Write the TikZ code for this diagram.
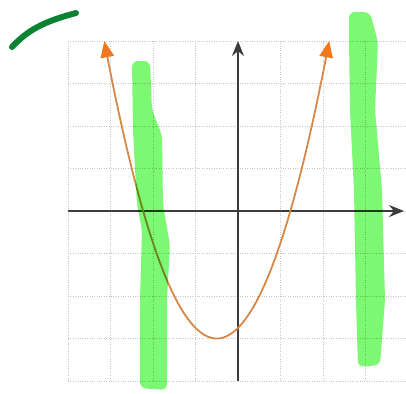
\documentclass[tikz,border=0pt]{standalone}
\usetikzlibrary{arrows.meta}

\definecolor{pbaxis}{RGB}{60,60,60}
\definecolor{pbline}{RGB}{215,135,70}
\definecolor{pbtip}{RGB}{240,120,30}
\definecolor{pbhigh}{RGB}{125,248,115}
\definecolor{pbpen}{RGB}{10,130,50}

\tikzset{
    pb grid/.style={densely dotted, gray!45, line width=0.6pt},
    pb axis/.style={pbaxis, line width=1.3pt,
                    -{Stealth[length=10pt, width=8pt]}},
    pb curve/.style={pbline, line width=1.2pt,
                     {Triangle[length=11pt, width=9pt, color=pbtip]}-{Triangle[length=11pt, width=9pt, color=pbtip]}},
    pb high/.style={fill=pbhigh, draw=none, rounded corners=4pt,
                    blend mode=multiply},
    pb pen/.style={pbpen, line width=4pt, line cap=round},
}

\begin{document}
\begin{tikzpicture}
    \clip (-5.6,-4.282) rectangle (3.953,4.965);
    % Grid
    \draw[pb grid] (-4,-4) grid (4,4);
    % Axes
    \coordinate (xlo) at (-4,0);
    \coordinate (xhi) at (3.906,0);
    \coordinate (ylo) at (0,-4);
    \coordinate (yhi) at (0,4);
    \draw[pb axis] (xlo) -- (xhi);
    \draw[pb axis] (ylo) -- (yhi);
    % Parabola
    \draw[pb curve] plot[domain=-3.146:2.146, samples=80, smooth]
          (\x, {(\x+0.5)^2-3});
    % Highlighter strokes
    \fill[pb high] (-2.494,3.529) -- (-2.471,1.906) -- (-2.376,0.141)
          -- (-2.259,-0.447) -- (-2.306,-2.094) -- (-2.306,-4.165)
          -- (-1.671,-4.212) -- (-1.671,-2.094) -- (-1.6,-0.8)
          -- (-1.765,0.141) -- (-1.788,1.788) -- (-2.024,2.376)
          -- (-2.071,3.529) -- cycle;
    \fill[pb high] (2.612,4.682) -- (3.106,4.682) -- (3.294,3.976)
          -- (3.224,2.376) -- (3.388,0.494) -- (3.459,-2.094)
          -- (3.341,-3.624) -- (2.824,-3.671) -- (2.776,-2.094)
          -- (2.729,0.494) -- (2.635,2.376) -- (2.612,4.024) -- cycle;
    % Pen mark
    \draw[pb pen] (-5.318,3.859) .. controls (-4.95,4.25) and (-4.6,4.45)
          .. (-3.812,4.659);
\end{tikzpicture}
\end{document}
